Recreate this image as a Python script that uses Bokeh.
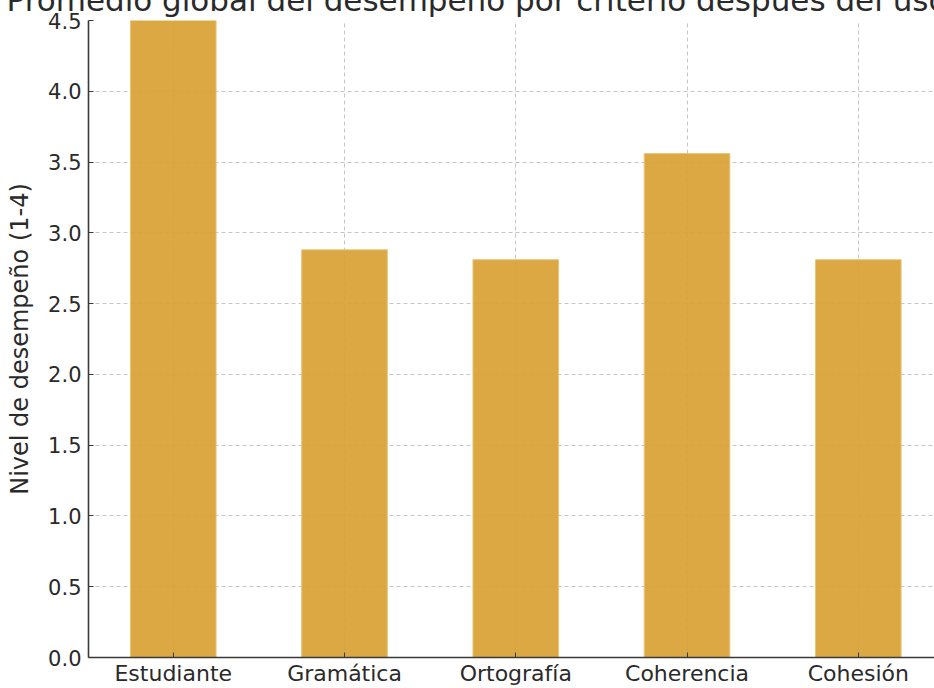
from bokeh.plotting import figure
from bokeh.models import Range1d, FixedTicker, PrintfTickFormatter, Title, ColumnDataSource
from bokeh.embed import file_html
from bokeh.resources import INLINE

categories = ["Estudiante", "Gramática", "Ortografía", "Coherencia", "Cohesión"]
values = [4.5, 2.88, 2.81, 3.56, 2.81]
y_ticks = [0.0, 0.5, 1.0, 1.5, 2.0, 2.5, 3.0, 3.5, 4.0, 4.5]
title_text = "Promedio global del desempeño por criterio después del uso"
y_label = "Nivel de desempeño (1-4)"

xs = list(range(len(categories)))
src = ColumnDataSource(dict(x=xs, top=values, cat=categories))

FONT = "DejaVu Sans"
SHIFT = 40  # canvas extends above the visible window; the title is cut like in the reference
p = figure(width=934, height=688 + SHIFT, output_backend="svg", toolbar_location=None,
           x_range=Range1d(-0.495, 4.445), y_range=Range1d(0, 4.5),
           min_border_left=88, min_border_top=20 + SHIFT, min_border_bottom=30, min_border_right=0)
p.styles = {"margin-top": f"-{SHIFT}px"}
p.outline_line_color = None
p.background_fill_color = "white"

p.vbar(x="x", top="top", width=0.5, bottom=0, source=src,
       fill_color="#D9A136", fill_alpha=0.93, line_color="#E9C57A", line_width=1)

for g in (p.xgrid, p.ygrid):
    g.grid_line_color = "#b8b8b8"
    g.grid_line_dash = "4 3"
    g.grid_line_width = 1
    g.grid_line_alpha = 0.8
p.xgrid.ticker = FixedTicker(ticks=xs)
p.ygrid.ticker = FixedTicker(ticks=y_ticks)

p.xaxis.ticker = FixedTicker(ticks=xs)
p.xaxis.major_label_overrides = {i: c for i, c in enumerate(categories)}
p.yaxis.ticker = FixedTicker(ticks=y_ticks)
p.yaxis.formatter = PrintfTickFormatter(format="%.1f")
p.yaxis.axis_label = y_label

for ax in (p.xaxis, p.yaxis):
    ax.axis_line_color = "#3a3a3a"
    ax.axis_line_width = 1.6
    ax.major_tick_in = 5
    ax.major_tick_out = 0
    ax.major_tick_line_color = "#3a3a3a"
    ax.minor_tick_line_color = None
    ax.major_label_text_font = FONT
    ax.major_label_text_color = "#2a2a2a"
    ax.axis_label_text_font = FONT
    ax.axis_label_text_font_size = "24px"
    ax.axis_label_text_font_style = "normal"
    ax.axis_label_text_color = "#2a2a2a"
p.xaxis.major_label_text_font_size = "22px"
p.yaxis.major_label_text_font_size = "21px"
p.xaxis.major_label_standoff = 3
p.yaxis.major_label_standoff = 7
p.yaxis.axis_label_standoff = 11

p.add_layout(Title(text=title_text, text_font=FONT, text_font_size="31px",
                   text_font_style="normal", text_color="#2a2a2a",
                   align="left", offset=-82, standoff=5), "above")

open("out.html", "w").write(file_html(p, INLINE))
